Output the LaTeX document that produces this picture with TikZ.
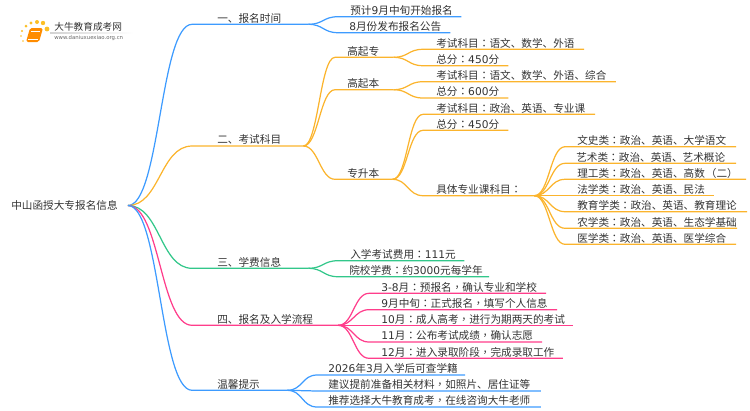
\documentclass[tikz,border=0pt]{standalone}
\usepackage{fontspec}
\setmainfont{Noto Sans CJK SC}
\newfontfamily\lat{DejaVu Sans}
\newfontfamily\tcfont{Noto Sans CJK TC}
\newcommand{\cln}{{\tcfont ：}}
\newcommand{\cma}{{\tcfont ，}}
\def\px{.5669pt}
\definecolor{skyline}{HTML}{3D9BFF}
\definecolor{goldline}{HTML}{FBB42D}
\definecolor{greenline}{HTML}{32C78A}
\definecolor{pinkline}{HTML}{FF3D8B}
\definecolor{inktext}{HTML}{333333}
\tikzset{
  item/.style={anchor=south west,inner sep=0pt,align=left,text width=#1*\px,text height=5.2pt,text depth=1.05pt,text=inktext,font=\fontsize{6.05}{8}\selectfont},
  twig/.style={line width=.7pt}
}
\begin{document}
\begin{tikzpicture}[x=.02cm,y=-.02cm]
     \useasboundingbox (0,0) rectangle (750,410);
     % logo
     \foreach \dotx/\doty/\dotr in {21/36/.9,23/41/.8,22/31/1.2,26/26/1.5,31/23/1.7,37/22/2,43/23/2.2,47/29/2.4}
       \fill[goldline!85!yellow] (\dotx,\doty) circle (\dotr);
     \fill[orange!90!yellow,rounded corners=1pt] (30,28) -- (43,28) -- (39,42) -- (26,42) -- cycle;
     \draw[white,line width=.3pt] (31,31) -- (40,31) (28,39.5) -- (38,39.5);
     \shade[left color=gray!35,right color=white] (50,32.8) rectangle (133,33.3);
     \node[inner sep=0pt,anchor=west,text=inktext,font=\fontsize{5.5}{7}\selectfont] (brand) at (54,26.5) {大牛教育成考网};
     \node[inner sep=0pt,anchor=west,text=gray!80!black,font=\lat\fontsize{3.05}{4}\selectfont] (site) at (54,38.5) {www.daniuxuexiao.org.cn};
     % root
     \node[inner xsep=10*\px,inner ysep=0pt,text=inktext,font=\fontsize{6.05}{8}\selectfont] (root) at (64.5,205.5) {中山函授大专报名信息};
     % first level
     \node[item=91] (time) at (217,24.3) {一、报名时间};
     \node[item=86] (exam) at (217,146) {二、考试科目};
     \node[item=91] (fee) at (217,268.3) {三、学费信息};
     \node[item=121] (flow) at (217,325.3) {四、报名及入学流程};
     \node[item=70] (tips) at (217,390.3) {温馨提示};
     % time
     \node[item=111] (timea) at (350,16.7) {预计{\lat 9}月中旬开始报名};
     \node[item=101] (timeb) at (349,32.7) {{\lat 8}月份发布报名公告};
     % exam
     \node[item=46] (gqz) at (347,57.3) {高起专};
     \node[item=46] (gqb) at (347,89.7) {高起本};
     \node[item=45] (zsb) at (347,179.3) {专升本};
     \node[item=148] (gqza) at (436,49.3) {考试科目\cln 语文、数学、外语};
     \node[item=72] (gqzb) at (436,65.7) {总分\cln{\lat 450}分};
     \node[item=180] (gqba) at (436,81.7) {考试科目\cln 语文、数学、外语、综合};
     \node[item=72] (gqbb) at (436,98) {总分\cln{\lat 600}分};
     \node[item=159] (zsba) at (436,114.3) {考试科目\cln 政治、英语、专业课};
     \node[item=72] (zsbb) at (436,130.3) {总分\cln{\lat 450}分};
     \node[item=98] (zsbc) at (436,195.7) {具体专业课科目\cln};
     \node[item=159] (ka) at (577,146.7) {文史类\cln 政治、英语、大学语文};
     \node[item=160] (kb) at (576,163.3) {艺术类\cln 政治、英语、艺术概论};
     \node[item=169] (kc) at (577,179.3) {理工类\cln 政治、英语、高数\kern.6pt{\tcfont （}二{\tcfont ）}};
     \node[item=137] (kd) at (577,195.7) {法学类\cln 政治、英语、民法};
     \node[item=170] (ke) at (577,211.7) {教育学类\cln 政治、英语、教育理论};
     \node[item=160] (kf) at (577,228.3) {农学类\cln 政治、英语、生态学基础};
     \node[item=159] (kg) at (577,244.3) {医学类\cln 政治、英语、医学综合};
     % fee
     \node[item=114] (feea) at (350,260.7) {入学考试费用\cln{\lat 111}元};
     \node[item=140] (feeb) at (349,276.7) {院校学费\cln 约{\lat 3000}元每学年};
     % flow
     \node[item=165] (flowa) at (381,293.3) {{\lat 3-8}月\cln 预报名\cma 确认专业和学校};
     \node[item=176] (flowb) at (381,309.7) {{\lat 9}月中旬\cln 正式报名\cma 填写个人信息};
     \node[item=192] (flowc) at (381,325.3) {{\lat 10}月\cln 成人高考\cma 进行为期两天的考试};
     \node[item=161] (flowd) at (381,342) {{\lat 11}月\cln 公布考试成绩\cma 确认志愿};
     \node[item=182] (flowe) at (381,358.3) {{\lat 12}月\cln 进入录取阶段\cma 完成录取工作};
     % tips
     \node[item=137] (tipsa) at (328,375) {{\lat 2026}年{\lat 3}月入学后可查学籍};
     \node[item=213] (tipsb) at (328,391) {建议提前准备相关材料\cma 如照片、居住证等};
     \node[item=213] (tipsc) at (328,407) {推荐选择大牛教育成考\cma 在线咨询大牛老师};
     % connectors from the root
     \foreach \to/\col in {time/skyline,exam/goldline,fee/greenline,flow/pinkline,tips/skyline}
       \draw[twig,\col] (root.east) .. controls +(32,0) and +(-32,0) .. ([xshift=-25*\px]\to.south west) -- (\to.south east);
     % connectors further out
     \foreach \from/\to/\gap in {time/timea/12,time/timeb/11}
       \draw[twig,skyline] (\from.south east) .. controls +(15,0) and +(-15,0) .. ([xshift=-\gap*\px]\to.south west) -- (\to.south east);
     \foreach \from/\to/\gap in {exam/gqz/12,exam/gqb/12,exam/zsb/12,gqz/gqza/13,gqz/gqzb/13,gqb/gqba/13,gqb/gqbb/13,zsb/zsba/13,zsb/zsbb/13,zsb/zsbc/13,zsbc/ka/12,zsbc/kb/11,zsbc/kc/12,zsbc/kd/12,zsbc/ke/12,zsbc/kf/12,zsbc/kg/12}
       \draw[twig,goldline] (\from.south east) .. controls +(15,0) and +(-15,0) .. ([xshift=-\gap*\px]\to.south west) -- (\to.south east);
     \foreach \from/\to/\gap in {fee/feea/12,fee/feeb/11}
       \draw[twig,greenline] (\from.south east) .. controls +(15,0) and +(-15,0) .. ([xshift=-\gap*\px]\to.south west) -- (\to.south east);
     \foreach \from/\to/\gap in {flow/flowa/12,flow/flowb/12,flow/flowc/12,flow/flowd/12,flow/flowe/12}
       \draw[twig,pinkline] (\from.south east) .. controls +(15,0) and +(-15,0) .. ([xshift=-\gap*\px]\to.south west) -- (\to.south east);
     \foreach \from/\to/\gap in {tips/tipsa/11,tips/tipsb/11,tips/tipsc/11}
       \draw[twig,skyline] (\from.south east) .. controls +(15,0) and +(-15,0) .. ([xshift=-\gap*\px]\to.south west) -- (\to.south east);
\end{tikzpicture}
\end{document}
